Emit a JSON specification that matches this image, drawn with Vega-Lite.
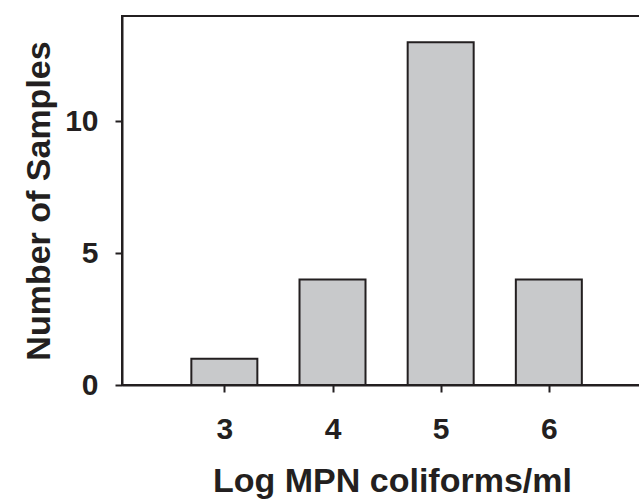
{
  "$schema": "https://vega.github.io/schema/vega-lite/v6.json",
  "autosize": "none",
  "padding": {"left": 122, "top": 16, "right": 0, "bottom": 114},
  "width": 540,
  "height": 369,
  "background": "white",
  "data": {"values": [
    {"logMPN": 3, "samples": 1},
    {"logMPN": 4, "samples": 4},
    {"logMPN": 5, "samples": 13},
    {"logMPN": 6, "samples": 4}
  ]},
  "mark": {"type": "bar", "width": 66, "fill": "#c8c9cb", "stroke": "#231f20", "strokeWidth": 2},
  "encoding": {
    "x": {
      "field": "logMPN", "type": "quantitative",
      "scale": {"domain": [2.1, 7.0], "nice": false, "zero": false},
      "axis": {"title": "Log MPN coliforms/ml", "values": [3, 4, 5, 6], "grid": false, "labelPadding": 22, "titlePadding": 20}
    },
    "y": {
      "field": "samples", "type": "quantitative",
      "scale": {"domain": [0, 14], "nice": false},
      "axis": {"title": "Number of Samples", "values": [0, 5, 10], "grid": false, "labelPadding": 17, "titlePadding": 8}
    }
  },
  "config": {
    "view": {"stroke": "#231f20", "strokeWidth": 2},
    "axis": {
      "domainColor": "#231f20", "domainWidth": 2,
      "tickColor": "#231f20", "tickWidth": 2, "tickSize": 7,
      "labelFont": "Liberation Sans", "labelFontSize": 30, "labelFontWeight": "bold", "labelColor": "#231f20",
      "titleFont": "Liberation Sans", "titleFontSize": 34, "titleFontWeight": "bold", "titleColor": "#231f20"
    }
  }
}
